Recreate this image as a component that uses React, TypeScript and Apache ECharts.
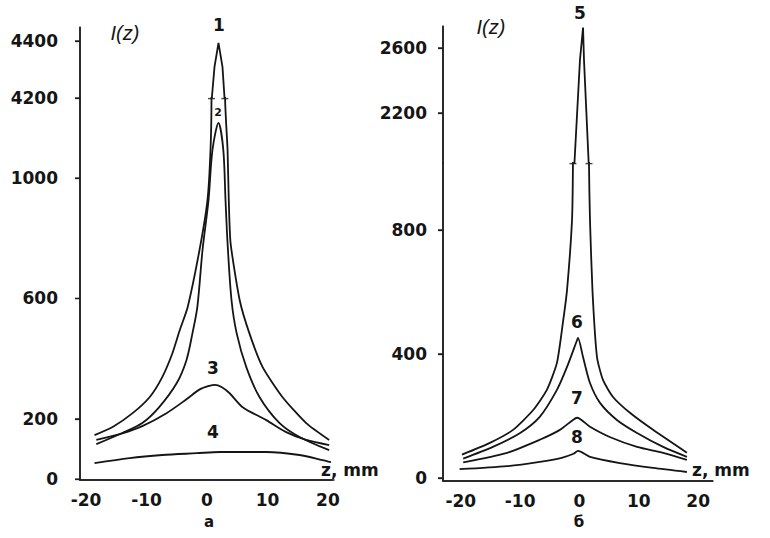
import React, { useEffect, useRef } from "react";
import * as echarts from "echarts";

// ---- tick labels ----
const zTicks = [-20, -10, 0, 10, 20];
const yTicksALow = [0, 200, 600, 1000];
const yTicksAHigh = [4200, 4400];
const yTicksBLow = [0, 400, 800];
const yTicksBHigh = [2200, 2600];

// ---- axis ranges (broken y axes: lower / upper part) ----
const zRangeA = [-21, 21];
const zRangeB = [-23, 22.5];
const yRangeALow = [-3, 1266];
const yRangeAHigh = [4200, 4449];
const yRangeBLow = [-10, 1016];
const yRangeBHigh = [1892, 2735];

// ---- panel a ----
const z1 = [-18.6, -15.6, -12.3, -9.5, -7.4, -5.7, -4.5, -3.2, -1.24, 0.08, 0.58, 0.74, 0.8, 1.24, 1.9, 2.56, 2.9, 3.0, 3.4, 3.6, 3.9, 5.4, 7.0, 9.2, 12.5, 16.4, 20.2];
const i1 = [146, 173, 219, 272, 339, 419, 495, 571, 761, 927, 1093, 1260, 4200, 4309, 4393, 4309, 4200, 1260, 1093, 927, 784, 595, 485, 372, 272, 186, 130];

const z2 = [-18.3, -14.0, -10.7, -7.9, -5.0, -3.4, -2.4, -1.6, -0.74, 0.25, 0.9, 1.9, 2.7, 3.06, 3.4, 4.05, 4.9, 6.5, 8.7, 12.0, 15.3, 20.2];
const i2 = [116, 153, 186, 239, 319, 395, 485, 571, 761, 927, 1093, 1183, 1093, 927, 784, 595, 485, 372, 272, 186, 140, 96];

const z3 = [-18.3, -14.0, -10.7, -6.7, -3.4, -1.2, 0.4, 1.3, 2.4, 3.7, 5.9, 9.8, 13.1, 16.4, 20.2];
const i3 = [130, 152, 176, 219, 265, 298, 310, 313, 306, 286, 239, 196, 156, 130, 113];

const z4 = [-18.6, -12.8, -7.4, -1.7, 2.1, 9.8, 15.3, 19.1, 20.5];
const i4 = [53, 70, 80, 86, 90, 90, 80, 63, 56];

// ---- panel б ----
const z5 = [-19.8, -15.1, -11.2, -7.8, -5.5, -3.8, -2.8, -2.1, -1.26, -1.1, -0.85, 0.08, 0.6, 0.76, 1.55, 1.6, 1.77, 2.2, 2.95, 3.96, 5.65, 8.5, 12.4, 18.1];
const i5 = [75, 113, 155, 219, 284, 371, 500, 606, 832, 1016, 1890, 2526, 2725, 2526, 1890, 1016, 832, 600, 390, 316, 261, 210, 155, 81];

const z6 = [-19.6, -14.6, -10.0, -6.7, -3.8, -2.1, -0.4, -0.25, 0.6, 1.77, 3.46, 6.3, 9.7, 14.1, 18.1];
const i6 = [62, 100, 145, 197, 284, 358, 445, 452, 390, 306, 242, 187, 145, 100, 68];

const z7 = [-19.6, -12.2, -6.7, -3.3, -1.1, -0.4, 1.77, 5.1, 9.7, 14.1, 18.1];
const i7 = [50, 81, 123, 155, 187, 194, 165, 132, 100, 81, 58];

const z8 = [-20.2, -12.2, -6.7, -3.0, -1.0, -0.25, 1.77, 6.8, 12.4, 18.1];
const i8 = [28, 38, 52, 65, 78, 87, 68, 48, 32, 19];

// break points on curves 1 and 5 (where the axis break cuts them)
const breakA = [[0.74, 1264], [2.95, 1264]];
const breakB = [[-1.1, 1014], [1.6, 1014]];

const pairs = (z: number[], v: number[]) => z.map((x, k) => [x, v[k]]);

const INK = "#151515";
const AXIS = "#1e1e1e";
const FONT = "DejaVu Sans";

export default function App() {
  const ref = useRef<HTMLDivElement>(null);
  useEffect(() => {
    document.body.style.margin = "0";
    const chart = echarts.init(ref.current!, null, { renderer: "svg" });

    const labelStyle = { fontFamily: FONT, fontWeight: "bold" as const, fontSize: 17, color: INK };
    const plain = (v: number) => String(v);
    const axisLineStyle = { color: AXIS, width: 1.5 };

    const xAxisDef = (grid: number, r: number[], show: boolean) => ({
      type: "value",
      gridIndex: grid,
      min: r[0],
      max: r[1],
      axisLine: { show, onZero: false, lineStyle: axisLineStyle },
      axisTick: { show: false },
      splitLine: { show: false },
      axisLabel: { show, ...labelStyle, margin: 11, customValues: zTicks, formatter: plain },
    });
    const yAxisDef = (grid: number, r: number[], ticks: number[], margin: number) => ({
      type: "value",
      gridIndex: grid,
      min: r[0],
      max: r[1],
      axisLine: { show: true, onZero: false, lineStyle: axisLineStyle },
      axisTick: { show: true, length: 5, customValues: ticks, lineStyle: { color: AXIS, width: 1.3 } },
      splitLine: { show: false },
      axisLabel: { ...labelStyle, margin, customValues: ticks, formatter: plain },
    });

    const line = (data: number[][], xi: number, yi: number, smooth: number) => ({
      type: "line",
      data,
      xAxisIndex: xi,
      yAxisIndex: yi,
      showSymbol: false,
      symbol: "none",
      smooth,
      clip: true,
      lineStyle: { color: INK, width: 1.8 },
      silent: true,
    });

    // axis frame drawn again by a custom series on the axis scales
    const frameSeries = (gi: number, path: number[][], ticks: number[]) => ({
      type: "custom",
      xAxisIndex: gi,
      yAxisIndex: gi,
      clip: false,
      silent: true,
      z: 6,
      data: [path[0]],
      renderItem: (_params: any, api: any) => {
        const pts = path.map((p) => api.coord(p));
        const children: any[] = [
          {
            type: "polyline",
            shape: { points: pts },
            style: { stroke: AXIS, lineWidth: 1.5, fill: "none" },
          },
        ];
        ticks.forEach((t) => {
          const c = api.coord([path[0][0], t]);
          children.push({
            type: "rect",
            shape: { x: c[0] - 5, y: c[1] - 0.65, width: 5, height: 1.3 },
            style: { fill: AXIS },
          });
        });
        return { type: "group", children };
      },
    });

    const breakMarks = (data: number[][], gi: number) => ({
      type: "scatter",
      data,
      xAxisIndex: gi,
      yAxisIndex: gi,
      symbol: "rect",
      symbolSize: [7, 1.4],
      clip: false,
      z: 5,
      itemStyle: { color: AXIS },
      silent: true,
    });

    chart.setOption({
      animation: false,
      grid: [
        { left: 80, top: 27, width: 254, height: 71 },
        { left: 80, top: 98, width: 254, height: 382 },
        { left: 443, top: 26, width: 270, height: 137 },
        { left: 443, top: 163, width: 270, height: 318 },
      ],
      xAxis: [
        xAxisDef(0, zRangeA, false),
        xAxisDef(1, zRangeA, true),
        xAxisDef(2, zRangeB, false),
        xAxisDef(3, zRangeB, true),
      ],
      yAxis: [
        yAxisDef(0, yRangeAHigh, yTicksAHigh, 22),
        yAxisDef(1, yRangeALow, yTicksALow, 22),
        yAxisDef(2, yRangeBHigh, yTicksBHigh, 16),
        yAxisDef(3, yRangeBLow, yTicksBLow, 16),
      ],
      series: [
        line(pairs(z1, i1), 0, 0, 0),
        line(pairs(z1, i1), 1, 1, 0.2),
        line(pairs(z2, i2), 1, 1, 0.3),
        line(pairs(z3, i3), 1, 1, 0.3),
        line(pairs(z4, i4), 1, 1, 0.3),
        line(pairs(z5, i5), 2, 2, 0),
        line(pairs(z5, i5), 3, 3, 0.2),
        line(pairs(z6, i6), 3, 3, 0.25),
        line(pairs(z7, i7), 3, 3, 0.25),
        line(pairs(z8, i8), 3, 3, 0.25),
        frameSeries(0, [[zRangeA[0], yRangeAHigh[1]], [zRangeA[0], yRangeAHigh[0]]], yTicksAHigh),
        frameSeries(1, [[zRangeA[0], yRangeALow[1]], [zRangeA[0], yRangeALow[0]], [zRangeA[1] - 0.2, yRangeALow[0]]], yTicksALow),
        frameSeries(2, [[zRangeB[0], yRangeBHigh[1]], [zRangeB[0], yRangeBHigh[0]]], yTicksBHigh),
        frameSeries(3, [[zRangeB[0], yRangeBLow[1]], [zRangeB[0], yRangeBLow[0]], [zRangeB[1], yRangeBLow[0]]], yTicksBLow),
        breakMarks(breakA, 1),
        breakMarks(breakB, 3),
      ],
    });

    const txt = (text: string, x: number, y: number, size = 17, extra: any = {}) => ({
      type: "text",
      x,
      y,
      style: {
        text,
        fill: INK,
        font: `bold ${size}px "${FONT}"`,
        align: "center",
        verticalAlign: "middle",
        ...extra,
      },
    });
    const italic = (x: number, y: number) => ({
      type: "text",
      x,
      y,
      style: { text: "I(z)", fill: INK, font: 'italic 20px "Liberation Sans"', align: "center", verticalAlign: "middle" },
    });

    chart.setOption({
      graphic: [
        txt("1", 219, 25),
        txt("2", 218, 112, 11),
        txt("3", 213, 368),
        txt("4", 213, 432),
        txt("5", 580, 13),
        txt("6", 577, 322),
        txt("7", 577, 398),
        txt("8", 577, 437),
        italic(125, 33),
        italic(491, 27),
        txt("z, mm", 321, 470, 17, { align: "left" }),
        txt("z, mm", 692, 470, 17, { align: "left" }),
        txt("а", 209, 522, 15),
        txt("б", 579, 522, 15),
      ],
    });
    return () => chart.dispose();
  }, []);
  return <div ref={ref} style={{ width: 770, height: 538 }} />;
}
